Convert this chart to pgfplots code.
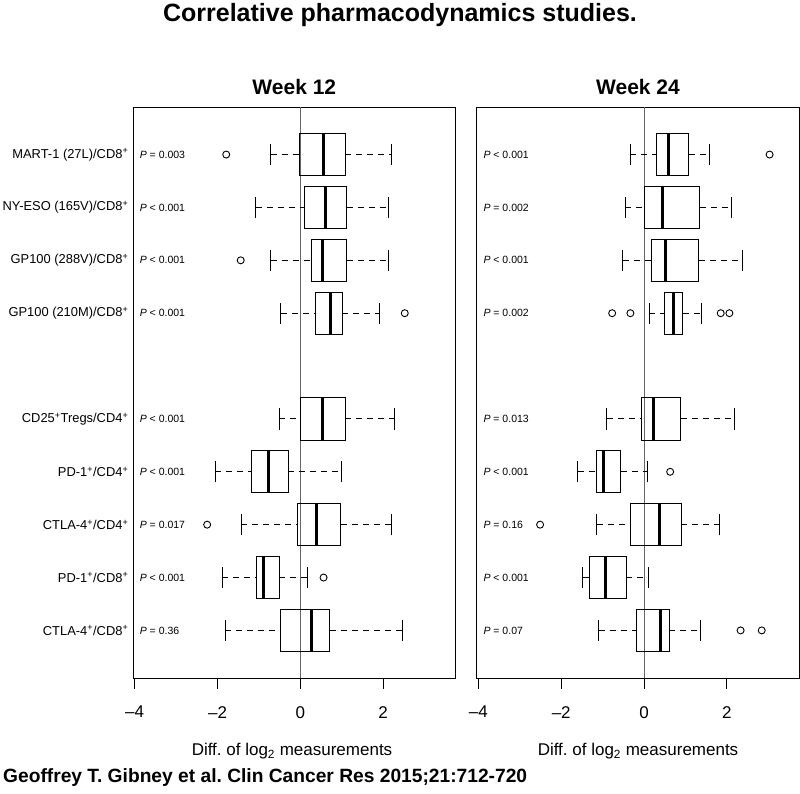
\documentclass[border=0pt]{standalone}
\usepackage{fontspec}
\setmainfont{Liberation Sans}
\usepackage{pgfplots}
\pgfplotsset{compat=1.18}
\usepgfplotslibrary{statistics}
\frenchspacing

\tikzset{pv/.style={anchor=west, font=\fontsize{10.5bp}{12bp}\selectfont, inner sep=0pt}}
\pgfplotsset{
  panel/.style={
    scale only axis, width=322.7bp, height=571bp,
    xmin=-4.04, xmax=3.75, ymin=0.1, ymax=10.9,
    axis line style={line width=0.9bp},
    xtick={-4,-2,0,2}, xticklabels={\textendash 4,\textendash 2,0,2},
    xtick pos=left, tick align=outside, major tick length=11bp,
    every tick/.style={black, line width=0.9bp},
    xticklabel style={font=\fontsize{17bp}{20bp}\selectfont, inner sep=0pt, yshift=-17bp},
    ytick style={draw=none},
    clip=false,
  },
  bxs/.style={
    black, solid, line width=0.9bp,
    mark=o, mark size=3.5bp, mark options={solid, line width=0.9bp},
    boxplot/draw direction=x, boxplot/box extend=0.8, boxplot/whisker extend=0.4,
    boxplot/every median/.style={line width=3bp},
    boxplot/every whisker/.style={dash pattern=on 6bp off 5bp},
    boxplot/draw/lower whisker/.code={%
      \draw[/pgfplots/boxplot/every whisker/.try]
        (boxplot box cs:\pgfplotsboxplotvalue{lower whisker},0.5) --
        (boxplot box cs:\pgfplotsboxplotvalue{lower quartile},0.5);
      \draw[solid]
        (boxplot whisker cs:\pgfplotsboxplotvalue{lower whisker},0) --
        (boxplot whisker cs:\pgfplotsboxplotvalue{lower whisker},1);
    },
    boxplot/draw/upper whisker/.code={%
      \draw[/pgfplots/boxplot/every whisker/.try]
        (boxplot box cs:\pgfplotsboxplotvalue{upper quartile},0.5) --
        (boxplot box cs:\pgfplotsboxplotvalue{upper whisker},0.5);
      \draw[solid]
        (boxplot whisker cs:\pgfplotsboxplotvalue{upper whisker},0) --
        (boxplot whisker cs:\pgfplotsboxplotvalue{upper whisker},1);
    },
  },
}
% box with outliers: pos, lw, lq, med, uq, uw, outlier rows
\newcommand{\bx}[7]{\addplot[bxs, boxplot prepared={draw position=#1, lower whisker=#2, lower quartile=#3, median=#4, upper quartile=#5, upper whisker=#6}] table[row sep=\\, y index=0] {v\\ #7};}
\newcommand{\bxn}[6]{\addplot[bxs, boxplot prepared={draw position=#1, lower whisker=#2, lower quartile=#3, median=#4, upper quartile=#5, upper whisker=#6}] coordinates {};}

\begin{document}
\begin{tikzpicture}[x=1bp, y=1bp]
\useasboundingbox (0,0) rectangle (800,794);

% ---------------- Week 12 ----------------
\begin{axis}[panel, at={(133bp,116bp)}, anchor=south west,
  ytick={1,2,3,4,5,7,8,9,10},
  yticklabels={CTLA-4\textsuperscript{+}/CD8\textsuperscript{+},
    PD-1\textsuperscript{+}/CD8\textsuperscript{+},
    CTLA-4\textsuperscript{+}/CD4\textsuperscript{+},
    PD-1\textsuperscript{+}/CD4\textsuperscript{+},
    CD25\textsuperscript{+}Tregs/CD4\textsuperscript{+},
    GP100 (210M)/CD8\textsuperscript{+},
    GP100 (288V)/CD8\textsuperscript{+},
    NY-ESO (165V)/CD8\textsuperscript{+},
    MART-1 (27L)/CD8\textsuperscript{+}},
  yticklabel style={font=\fontsize{12.9bp}{16bp}\selectfont, inner sep=0pt, xshift=6.5bp},
]
\addplot[black!60, line width=0.8bp, forget plot] coordinates {(0,0.1) (0,10.9)};
\bx{10}{-0.72}{-0.02}{0.56}{1.08}{2.19}{-1.79\\}
\bxn{9}{-1.08}{0.09}{0.60}{1.12}{2.13}
\bx{8}{-0.72}{0.27}{0.53}{1.12}{2.13}{-1.44\\}
\bx{7}{-0.47}{0.37}{0.73}{1.01}{1.90}{2.52\\}
\bxn{5}{-0.51}{0.01}{0.53}{1.08}{2.28}
\bxn{4}{-2.06}{-1.18}{-0.78}{-0.29}{1.00}
\bx{3}{-1.43}{-0.08}{0.40}{0.97}{2.21}{-2.25\\}
\bx{2}{-1.88}{-1.06}{-0.88}{-0.51}{0.18}{0.56\\}
\bxn{1}{-1.82}{-0.49}{0.28}{0.71}{2.46}
\node[pv] at (axis cs:-3.88,10) {\textit{P} = 0.003};
\node[pv] at (axis cs:-3.88,9) {\textit{P} < 0.001};
\node[pv] at (axis cs:-3.88,8) {\textit{P} < 0.001};
\node[pv] at (axis cs:-3.88,7) {\textit{P} < 0.001};
\node[pv] at (axis cs:-3.88,5) {\textit{P} < 0.001};
\node[pv] at (axis cs:-3.88,4) {\textit{P} < 0.001};
\node[pv] at (axis cs:-3.88,3) {\textit{P} = 0.017};
\node[pv] at (axis cs:-3.88,2) {\textit{P} < 0.001};
\node[pv] at (axis cs:-3.88,1) {\textit{P} = 0.36};
\end{axis}

% ---------------- Week 24 ----------------
\begin{axis}[panel, at={(476.7bp,116bp)}, anchor=south west, ytick=\empty]
\addplot[black!60, line width=0.8bp, forget plot] coordinates {(0,0.1) (0,10.9)};
\bx{10}{-0.33}{0.31}{0.60}{1.08}{1.57}{3.03\\}
\bxn{9}{-0.45}{0.02}{0.45}{1.34}{2.12}
\bxn{8}{-0.51}{0.19}{0.52}{1.32}{2.37}
\bx{7}{0.13}{0.50}{0.70}{0.93}{1.38}{-0.77\\ -0.33\\ 1.85\\ 2.06\\}
\bxn{5}{-0.90}{-0.06}{0.23}{0.89}{2.17}
\bx{4}{-1.60}{-1.15}{-0.98}{-0.56}{0.08}{0.63\\}
\bx{3}{-1.14}{-0.32}{0.37}{0.90}{1.82}{-2.51\\}
\bxn{2}{-1.48}{-1.33}{-0.94}{-0.43}{0.10}
\bx{1}{-1.10}{-0.18}{0.39}{0.61}{1.35}{2.33\\ 2.84\\}
\node[pv] at (axis cs:-3.88,10) {\textit{P} < 0.001};
\node[pv] at (axis cs:-3.88,9) {\textit{P} = 0.002};
\node[pv] at (axis cs:-3.88,8) {\textit{P} < 0.001};
\node[pv] at (axis cs:-3.88,7) {\textit{P} = 0.002};
\node[pv] at (axis cs:-3.88,5) {\textit{P} = 0.013};
\node[pv] at (axis cs:-3.88,4) {\textit{P} < 0.001};
\node[pv] at (axis cs:-3.88,3) {\textit{P} = 0.16};
\node[pv] at (axis cs:-3.88,2) {\textit{P} < 0.001};
\node[pv] at (axis cs:-3.88,1) {\textit{P} = 0.07};
\end{axis}

% ---------------- texts ----------------
\node[anchor=base, font=\bfseries\fontsize{25bp}{30bp}\selectfont, inner sep=0pt] at (400,772) {Correlative pharmacodynamics studies.};
\node[anchor=base, font=\bfseries\fontsize{21bp}{25bp}\selectfont, inner sep=0pt] at (294.3,699.5) {Week 12};
\node[anchor=base, font=\bfseries\fontsize{21bp}{25bp}\selectfont, inner sep=0pt] at (638,699.5) {Week 24};
\node[anchor=base, font=\fontsize{17bp}{20bp}\selectfont, inner sep=0pt] at (292,38.5) {Diff. of log\textsubscript{2} measurements};
\node[anchor=base, font=\fontsize{17bp}{20bp}\selectfont, inner sep=0pt] at (638,38.5) {Diff. of log\textsubscript{2} measurements};
\node[anchor=base west, font=\bfseries\fontsize{19.2bp}{22bp}\selectfont, inner sep=0pt] at (3,11) {Geoffrey T. Gibney et al. Clin Cancer Res 2015;21:712-720};
\end{tikzpicture}
\end{document}
